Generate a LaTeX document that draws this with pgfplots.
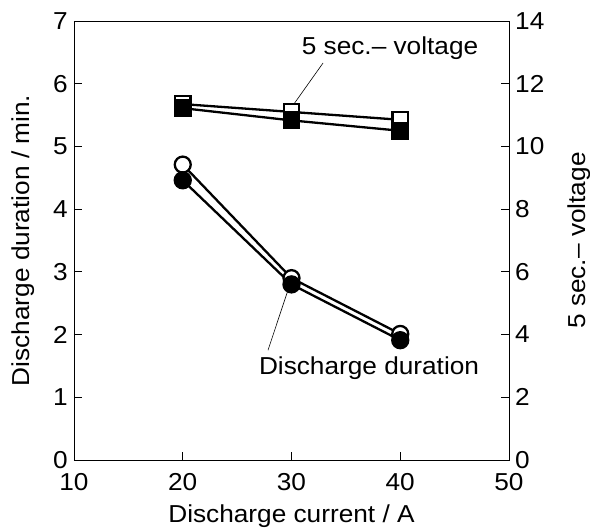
\documentclass[border=0pt]{standalone}
\usepackage{fontspec}
\setmainfont{Liberation Sans}[FakeStretch=1.07]
\usepackage{pgfplots}
\pgfplotsset{compat=1.18}

\begin{document}
\fontsize{24.5}{29}\selectfont
\begin{tikzpicture}
\pgfplotsset{
  every axis/.append style={
    scale only axis, width=435pt, height=439pt,
    xmin=10, xmax=50,
    /pgf/number format/assume math mode=true,
    axis line style={line width=0.9pt},
    every tick/.style={black, line width=0.9pt},
    tick align=inside, major tick length=8pt,
    tick label style={font=\fontsize{24.5}{29}\selectfont, inner sep=1pt},
    label style={font=\fontsize{24.5}{29}\selectfont},
    clip=false,
  },
  ser/.style={black, line width=2.3pt, mark options={solid, line width=1.5pt}},
}
% left axis: discharge duration
\begin{axis}[name=main, ymin=0, ymax=7, ytick={0,...,7},
  xtick={10,20,30,40,50}, xtick pos=bottom, ytick pos=left,
  xticklabel style={yshift=-12pt}, yticklabel style={xshift=-5pt},
  xlabel={Discharge current / A}, ylabel={Discharge duration / min.},
  xlabel style={at={(axis description cs:0.5,0)}, anchor=center, yshift=-56pt},
  ylabel style={at={(axis description cs:0,0.5)}, anchor=center, yshift=51pt}]
\addplot[ser, mark=*, mark size=8pt, mark options={fill=white}] coordinates {(20,4.71) (30,2.90) (40,2.01)};
\addplot[ser, mark=*, mark size=8pt, mark options={fill=black}] coordinates {(20,4.46) (30,2.80) (40,1.91)};
\node at (axis cs:39.06,6.57) {5 sec.– voltage};
\draw[line width=0.6pt] (axis cs:32.9,6.33) -- (axis cs:29.95,5.61);
\node at (axis cs:37.13,1.47) {Discharge duration};
\draw[line width=0.6pt] (axis cs:27.84,1.75) -- (axis cs:29.68,2.71);
\end{axis}
% right axis: 5 sec. voltage
\begin{axis}[ymin=0, ymax=14, ytick={0,2,...,14}, axis y line*=right, axis x line=none,
  yticklabel style={xshift=5pt},
  ylabel={5 sec.– voltage},
  ylabel style={at={(axis description cs:1,0.5)}, anchor=center, yshift=-70pt}]
\addplot[ser, mark=square*, mark size=7.8pt, mark options={fill=white}] coordinates {(20,11.35) (30,11.10) (40,10.85)};
\addplot[ser, mark=square*, mark size=7.8pt, mark options={fill=black}] coordinates {(20,11.22) (30,10.83) (40,10.5)};
\end{axis}
\pgfresetboundingbox
\path (main.south west) ++(-74pt,-71pt) rectangle ++(590pt,531pt);
\end{tikzpicture}
\end{document}
